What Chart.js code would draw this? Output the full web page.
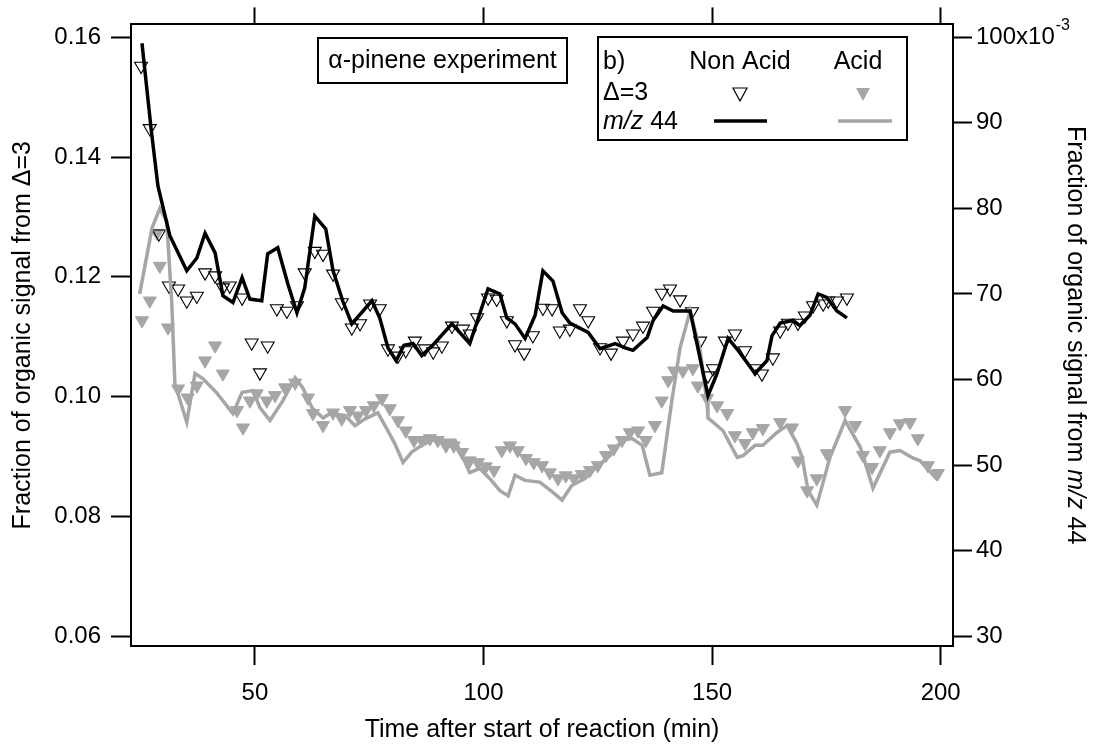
<!DOCTYPE html>
<html><head><meta charset="utf-8">
<script src="https://cdn.jsdelivr.net/npm/chart.js@4.4.1/dist/chart.umd.min.js"></script>
<style>html,body{margin:0;padding:0;background:#fff}#wrap{width:1105px;height:747px;position:relative}</style>
</head><body><div id="wrap"><canvas id="c"></canvas></div>
<script>
// ---- data ----
const nonAcidD3Time = [25.1,27.0,29.0,31.2,33.2,35.1,37.3,39.1,41.3,43.0,44.5,47.2,49.3,51.1,52.8,54.8,57.0,59.2,60.9,63.1,64.9,67.1,69.0,71.2,73.0,75.2,77.3,79.1,81.3,83.0,85.0,87.2,89.0,90.9,93.1,95.5,97.0,98.6,101.0,102.9,105.1,106.9,108.9,110.8,113.0,115.0,116.7,118.9,121.1,122.9,125.5,127.9,130.5,132.7,134.9,137.1,139.0,140.8,143.0,145.6,147.4,149.1,150.2,152.8,155.0,157.2,159.4,160.9,163.3,164.9,166.6,168.8,170.3,172.1,174.3,175.4,177.3,179.5];
const nonAcidD3 = [0.1552,0.1448,0.1272,0.1185,0.1180,0.1160,0.1168,0.1207,0.1202,0.1182,0.1185,0.1165,0.1090,0.1040,0.1085,0.1147,0.1143,0.1152,0.1207,0.1243,0.1238,0.1205,0.1157,0.1115,0.1122,0.1155,0.1147,0.1080,0.1068,0.1077,0.1093,0.1080,0.1075,0.1085,0.1118,0.1113,0.1105,0.1132,0.1165,0.1163,0.1127,0.1087,0.1073,0.1102,0.1148,0.1147,0.1110,0.1113,0.1147,0.1127,0.1082,0.1073,0.1093,0.1105,0.1118,0.1143,0.1173,0.1180,0.1162,0.1142,0.1093,0.1035,0.1047,0.1093,0.1105,0.1077,0.1047,0.1038,0.1065,0.1110,0.1123,0.1123,0.1135,0.1152,0.1155,0.1160,0.1160,0.1165];
const acidD3Time = [25.3,27.0,28.6,29.2,31.0,33.2,35.3,37.3,39.1,41.3,43.0,46.1,47.4,48.9,50.4,52.6,54.4,56.6,58.8,61.6,62.7,64.9,67.1,69.0,70.8,72.5,74.3,76.0,77.8,79.5,81.3,83.0,84.8,86.5,88.3,90.0,91.8,93.5,95.3,97.0,98.8,100.5,102.3,104.0,105.8,107.5,109.3,111.0,112.8,114.5,116.3,118.0,119.8,121.5,123.3,125.0,126.8,128.5,130.3,132.0,133.8,135.5,137.5,139.0,140.4,141.7,143.6,145.8,146.9,148.9,151.1,153.3,155.0,157.2,158.9,161.1,164.9,167.5,168.8,170.8,172.9,175.1,179.1,181.3,183.0,185.0,186.7,188.9,191.1,193.3,195.0,197.2,199.4];
const acidD3 = [0.1127,0.1160,0.1273,0.1218,0.1115,0.1013,0.0998,0.1018,0.1060,0.1085,0.1038,0.0977,0.0948,0.0993,0.1005,0.0993,0.1002,0.1015,0.1023,0.0998,0.0972,0.0952,0.0973,0.0963,0.0977,0.0968,0.0977,0.0985,0.0997,0.0980,0.0960,0.0943,0.0927,0.0927,0.0930,0.0927,0.0918,0.0918,0.0907,0.0893,0.0890,0.0883,0.0877,0.0910,0.0918,0.0910,0.0897,0.0890,0.0885,0.0873,0.0863,0.0868,0.0863,0.0870,0.0877,0.0885,0.0902,0.0913,0.0927,0.0940,0.0943,0.0927,0.0952,0.0993,0.1027,0.1043,0.1043,0.1047,0.1018,0.0997,0.0985,0.0972,0.0935,0.0922,0.0940,0.0947,0.0957,0.0948,0.0893,0.0843,0.0863,0.0905,0.0977,0.0952,0.0902,0.0882,0.0910,0.0940,0.0955,0.0957,0.0930,0.0885,0.0872];
// m/z 44 fractions in units of 10^-3
const nonAcidMz44Time = [25.3,27.3,28.8,31.4,35.1,37.3,39.1,41.3,43.0,45.2,47.2,48.9,51.5,52.8,55.0,57.2,59.2,60.9,63.1,65.5,67.1,69.2,71.2,75.6,77.3,79.1,80.9,82.6,84.6,86.5,88.9,93.1,97.0,101.0,103.6,105.1,106.9,109.1,111.3,113.0,115.2,117.2,118.9,122.9,125.5,128.8,131.0,132.7,135.8,137.1,139.3,141.5,145.2,149.1,151.1,153.5,155.7,159.4,162.0,163.1,164.9,167.7,169.2,171.4,173.2,175.1,177.3,179.5];
const nonAcidMz44 = [99.3,89.3,82.6,76.8,72.7,74.2,77.1,74.8,69.8,69.0,71.9,69.4,69.2,74.7,75.4,71.2,67.8,70.7,79.1,77.6,72.7,69.2,66.5,69.2,67.2,63.7,62.2,64.0,64.2,62.8,64.0,66.5,64.2,70.6,70.0,67.2,66.5,64.8,67.5,72.7,71.5,67.8,66.6,65.5,63.6,64.2,63.7,63.4,64.9,66.9,68.6,68.0,68.0,58.1,60.7,64.8,63.4,60.7,62.2,65.1,66.6,66.9,66.3,67.5,70.0,69.6,68.0,67.2];
const acidMz44Time = [24.8,27.5,29.2,30.7,31.8,32.5,35.1,36.9,38.6,41.7,45.2,47.2,49.6,51.1,53.3,56.1,58.8,60.5,62.5,64.9,66.4,69.7,71.9,74.1,76.9,79.1,80.6,82.4,84.3,86.5,88.7,91.6,93.8,95.3,97.0,99.2,101.4,103.6,105.4,106.9,109.1,112.3,115.2,117.2,119.3,122.2,125.0,127.7,130.3,132.5,134.7,136.4,139.0,141.2,143.0,145.2,147.4,148.9,149.1,152.4,155.5,156.8,159.4,161.1,164.2,166.4,168.6,169.7,171.0,172.9,175.8,179.1,182.4,185.2,188.9,191.1,194.0,195.5,199.4];
const acidMz44 = [70.0,77.7,80.0,78.5,69.2,59.5,55.0,60.7,60.1,58.4,56.0,58.5,58.7,56.7,55.2,57.5,60.2,59.0,56.7,55.5,56.0,55.8,54.6,55.4,56.1,54.0,52.5,50.3,51.5,52.3,52.9,52.9,52.9,51.1,49.1,49.6,48.4,47.0,46.4,48.8,48.2,48.0,46.8,45.9,47.6,48.4,49.9,51.1,52.9,53.1,52.3,48.8,49.1,57.5,63.7,68.0,63.4,57.3,55.5,54.0,50.9,51.1,52.3,52.3,53.8,54.6,52.5,50.9,47.0,45.3,50.9,55.2,52.1,47.3,51.5,51.7,50.8,50.5,48.2];
const xTicks = [50, 100, 150, 200];
const yLeftTicks = [0.06, 0.08, 0.10, 0.12, 0.14, 0.16];
const yRightTicks = [30, 40, 50, 60, 70, 80, 90, 100];

// ---- chart ----
const FONT = "'Liberation Sans', Arial, Helvetica, sans-serif";
const GREY = '#a6a6a6';
const zip = (xs, ys) => xs.map((x, i) => ({x, y: ys[i]}));
const X_MIN = 22.9, X_MAX = 202.7;
const YL_MIN = 0.05834, YL_MAX = 0.16216;
const YR_MIN = 28.84, YR_MAX = 101.51;
const TICK_FONT = {family: FONT, size: 24};
const setTicks = arr => (s => { s.ticks = arr.map(v => ({value: v})); });
const gridOpts = len => ({drawOnChartArea: false, drawTicks: true, tickLength: len, tickWidth: 2, tickColor: '#000'});
const borderOpts = {display: true, color: '#000', width: 2};

const decor = {
  id: 'decor',
  afterDraw(chart) {
    const ctx = chart.ctx;
    ctx.save();
    ctx.strokeStyle = '#000'; ctx.fillStyle = '#000'; ctx.lineWidth = 2;
    // alpha-pinene box
    ctx.strokeRect(318, 38, 249, 45);
    ctx.font = `25px ${FONT}`; ctx.textAlign = 'center'; ctx.textBaseline = 'middle';
    ctx.fillText('\u03b1-pinene experiment', 442.5, 61);
    // legend box
    ctx.strokeRect(598, 37, 309, 103);
    ctx.textAlign = 'left'; ctx.fillText('b)', 603, 62);
    ctx.textAlign = 'center'; ctx.fillText('Non Acid', 740, 62); ctx.fillText('Acid', 858, 62);
    ctx.textAlign = 'left'; ctx.fillText('\u0394=3', 603, 93);
    ctx.font = `italic 25px ${FONT}`; ctx.fillText('m/z', 603, 122);
    const w = ctx.measureText('m/z').width;
    ctx.font = `25px ${FONT}`; ctx.fillText(' 44', 603 + w, 122);
    // legend triangles
    const tri = (cx, cy, fill) => {
      ctx.beginPath(); ctx.moveTo(cx - 7, cy - 6); ctx.lineTo(cx + 7, cy - 6); ctx.lineTo(cx, cy + 7); ctx.closePath();
      if (fill) { ctx.fillStyle = GREY; ctx.fill(); ctx.fillStyle = '#000'; }
      else { ctx.lineWidth = 1.2; ctx.stroke(); }
    };
    tri(740, 94, false); tri(863, 94, true);
    ctx.lineWidth = 3.5;
    ctx.beginPath(); ctx.moveTo(714, 121); ctx.lineTo(767, 121); ctx.strokeStyle = '#000'; ctx.stroke();
    ctx.beginPath(); ctx.moveTo(838, 121); ctx.lineTo(892, 121); ctx.strokeStyle = GREY; ctx.stroke();
    // superscript on right axis 100 label
    const s = chart.scales.y2;
    const yy = s.getPixelForValue(100);
    const x0 = s.left + s.options.grid.tickLength + s.options.ticks.padding;
    ctx.fillStyle = '#000';
    ctx.font = `24px ${FONT}`; ctx.textAlign = 'left';
    const w2 = ctx.measureText('100x10').width;
    ctx.font = `16px ${FONT}`; ctx.fillText('-3', x0 + w2 + 1, yy - 12);
    // right axis title
    const ca = chart.chartArea;
    ctx.translate(1075, (ca.top + ca.bottom) / 2);
    ctx.rotate(Math.PI / 2);
    const parts = [['Fraction of organic signal from ', ''], ['m/z', 'italic '], [' 44', '']];
    let total = 0;
    parts.forEach(p => { ctx.font = `${p[1]}25px ${FONT}`; total += ctx.measureText(p[0]).width; });
    let xx = -total / 2;
    ctx.textBaseline = 'middle';
    parts.forEach(p => { ctx.font = `${p[1]}25px ${FONT}`; ctx.fillText(p[0], xx, 0); xx += ctx.measureText(p[0]).width; });
    ctx.restore();
  }
};

new Chart(document.getElementById('c'), {
  type: 'line',
  data: {
    datasets: [
      {label: 'Non Acid m/z 44', data: zip(nonAcidMz44Time, nonAcidMz44), xAxisID: 'x', yAxisID: 'y2',
       borderColor: '#000', borderWidth: 3.5, pointRadius: 0, tension: 0, fill: false, order: 1},
      {label: 'Acid m/z 44', data: zip(acidMz44Time, acidMz44), xAxisID: 'x', yAxisID: 'y2',
       borderColor: GREY, borderWidth: 3.5, pointRadius: 0, tension: 0, fill: false, order: 2},
      {label: 'Non Acid Δ=3', data: zip(nonAcidD3Time, nonAcidD3), xAxisID: 'x', yAxisID: 'y', showLine: false,
       pointStyle: 'triangle', pointRotation: 180, pointRadius: 7.5, pointBorderWidth: 1.1,
       pointBorderColor: '#000', pointBackgroundColor: 'rgba(255,255,255,0)', order: 3},
      {label: 'Acid Δ=3', data: zip(acidD3Time, acidD3), xAxisID: 'x', yAxisID: 'y', showLine: false,
       pointStyle: 'triangle', pointRotation: 180, pointRadius: 7.5, pointBorderWidth: 1,
       pointBorderColor: GREY, pointBackgroundColor: GREY, order: 4}
    ]
  },
  options: {
    responsive: true, maintainAspectRatio: false, animation: false,
    layout: {padding: 0},
    plugins: {legend: {display: false}, tooltip: {enabled: false}},
    events: [],
    scales: {
      x: {type: 'linear', position: 'bottom', min: X_MIN, max: X_MAX,
          afterBuildTicks: setTicks(xTicks), afterFit: s => { s.height = 101; },
          ticks: {font: TICK_FONT, color: '#000', padding: 14, maxRotation: 0, autoSkip: false, callback: v => String(v)},
          grid: gridOpts(19), border: borderOpts,
          title: {display: true, text: 'Time after start of reaction (min)', color: '#000', font: {family: FONT, size: 25}, padding: {top: 0, bottom: 2}}},
      xTop: {type: 'linear', position: 'top', min: X_MIN, max: X_MAX,
          afterBuildTicks: setTicks(xTicks), afterFit: s => { s.height = 22; },
          ticks: {display: false}, grid: gridOpts(17), border: borderOpts},
      y: {type: 'linear', position: 'left', min: YL_MIN, max: YL_MAX,
          afterBuildTicks: setTicks(yLeftTicks), afterFit: s => { s.width = 131; },
          ticks: {font: TICK_FONT, color: '#000', padding: 10, autoSkip: false, callback: v => v.toFixed(2)},
          grid: gridOpts(20), border: borderOpts,
          title: {display: true, text: 'Fraction of organic signal from \u0394=3', color: '#000', font: {family: FONT, size: 25}, padding: {top: 8, bottom: 0}}},
      y2: {type: 'linear', position: 'right', min: YR_MIN, max: YR_MAX,
          afterBuildTicks: setTicks(yRightTicks), afterFit: s => { s.width = 152; },
          ticks: {font: TICK_FONT, color: '#000', padding: 4, autoSkip: false, callback: v => v === 100 ? '100x10' : String(v)},
          grid: gridOpts(19), border: borderOpts}
    }
  },
  plugins: [decor]
});
</script></body></html>
